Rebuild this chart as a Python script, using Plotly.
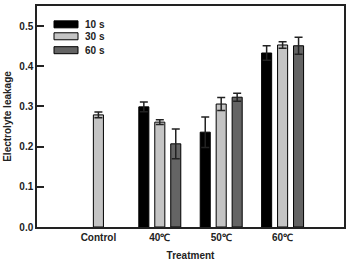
import plotly.graph_objects as go

categories = ["Control", "40℃", "50℃", "60℃"]
cat_pos = [1, 2, 3, 4]
series_names = ["10 s", "30 s", "60 s"]
v10 = [None, 0.299, 0.236, 0.433]
e10 = [None, 0.012, 0.038, 0.018]
v30 = [0.279, 0.261, 0.306, 0.453]
e30 = [0.007, 0.006, 0.016, 0.008]
v60 = [None, 0.207, 0.323, 0.451]
e60 = [None, 0.037, 0.010, 0.021]
colors = ["#000000", "#c4c4c4", "#646464"]

font = dict(family="Liberation Sans, Arial, sans-serif", size=10, color="#222", weight="bold")

fig = go.Figure()
for name, vals, errs, col in zip(series_names, [v10, v30, v60], [e10, e30, e60], colors):
    fig.add_trace(go.Bar(
        x=cat_pos, y=vals, name=name,
        marker=dict(color=col, line=dict(color="#000", width=1)),
        error_y=dict(type="data", array=errs, visible=True, color="#222", thickness=1.5, width=4),
        showlegend=False,
    ))

# custom legend (wide rectangles)
leg_y = [0.917, 0.863, 0.80]
for name, col, yy in zip(series_names, colors, leg_y):
    x0 = (54 - 37) / 307
    x1 = (78 - 37) / 307
    h = 3.5 / 221
    fig.add_shape(type="rect", xref="paper", yref="paper", x0=x0, x1=x1, y0=yy - h, y1=yy + h,
                  fillcolor=col, line=dict(color="#000", width=1))
    fig.add_annotation(xref="paper", yref="paper", x=(83 - 37) / 307, y=yy, text=name,
                       showarrow=False, xanchor="left", yanchor="middle", font=font)

fig.update_layout(
    width=347, height=261,
    margin=dict(l=37, r=3, t=6, b=34),
    plot_bgcolor="white", paper_bgcolor="white",
    barmode="group", bargap=0.22, bargroupgap=0.37,
    font=font,
    xaxis=dict(range=[0, 5], tickvals=cat_pos, ticktext=categories, ticks="",
               showline=True, linecolor="#222", linewidth=1.5, mirror=True,
               showgrid=False, zeroline=False, tickfont=font, automargin=False,
               title=dict(text="Treatment", font=font, standoff=12)),
    yaxis=dict(range=[0, 0.55], tickvals=[0, 0.1, 0.2, 0.3, 0.4, 0.5], tickformat=".1f",
               ticks="inside", ticklen=7, tickwidth=1.5, tickcolor="#222",
               showline=True, linecolor="#222", linewidth=1.5, mirror=True,
               showgrid=False, zeroline=False, tickfont=font, automargin=False,
               title=dict(text="Electrolyte leakage", font=font, standoff=6)),
)

fig.write_html("out.html")
